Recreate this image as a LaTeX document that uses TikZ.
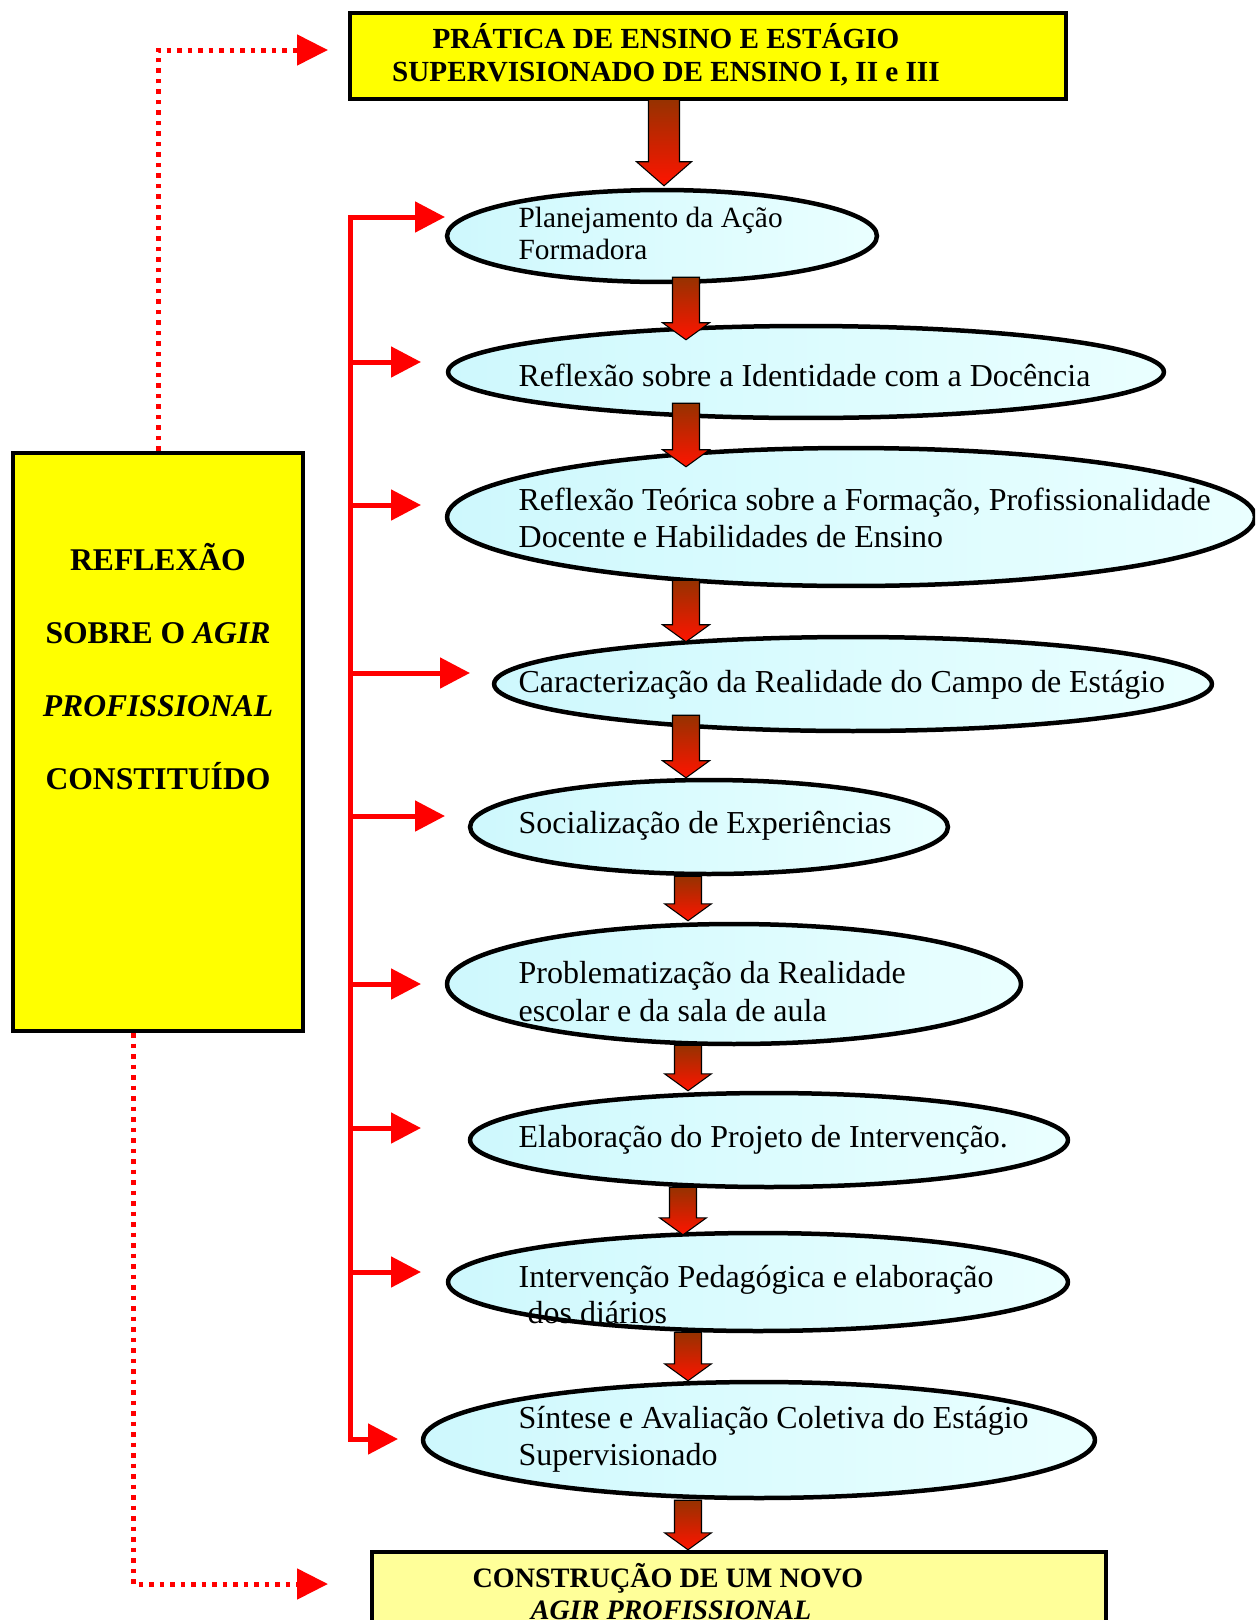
\documentclass[tikz,border=0pt]{standalone}
\usepackage{fontspec}
\setmainfont{Liberation Serif}
\usetikzlibrary{shapes.geometric,arrows.meta,calc}

\definecolor{boxyellow}{RGB}{255,255,0}
\definecolor{paleyellow}{RGB}{255,255,153}
\definecolor{cyanleft}{RGB}{206,248,253}
\definecolor{cyanright}{RGB}{234,255,255}
\definecolor{arrowtop}{RGB}{150,50,0}
\definecolor{arrowbot}{RGB}{255,20,0}

\tikzset{every picture/.style={line width=0.75pt}}
\tikzset{
  topbox/.style={rectangle,draw=black,line width=0.09cm,fill=boxyellow},
  endbox/.style={rectangle,draw=black,line width=0.09cm,fill=paleyellow},
  stage/.style={ellipse,draw=black,line width=0.09cm,left color=cyanleft,right color=cyanright},
  etext/.style={anchor=base west,font=\fontsize{18.2}{22}\selectfont},
  smalltext/.style={anchor=base west,font=\fontsize{16.7}{20}\selectfont},
  boxtext/.style={anchor=base,font=\fontsize{16.6}{20}\selectfont\bfseries},
  sidetext/.style={anchor=base,font=\fontsize{18}{22}\selectfont\bfseries},
  endtext/.style={anchor=base,font=\fontsize{16}{19}\selectfont\bfseries},
  sidearrow/.style={draw=red,line width=0.1cm,-{Triangle[length=0.6cm,width=0.6cm]}},
  spine/.style={draw=red,line width=0.1cm,line join=miter,{Triangle[length=0.6cm,width=0.6cm]}-{Triangle[length=0.6cm,width=0.6cm]}},
  dotarrow/.style={draw=red,line width=0.1cm,dash pattern=on 0.09cm off 0.12cm,-{Triangle[length=0.62cm,width=0.6cm]}},
  blockarrow/.style={draw=black,line width=0.6pt,top color=arrowtop,bottom color=arrowbot}
}

% block arrow sizes
\newcommand{\arrshaft}{0.27cm}
\newcommand{\arrhead}{0.47cm}
\newcommand{\arrheadlen}{0.34cm}
% #1 from, #2 to, #3 x, #4 start shift, #5 tip shift
\newcommand{\flowarrow}[5]{%
  \draw[blockarrow] let \p1=(#1.south), \p2=(#2.north), \p3=(#3,#4), \p4=(0,#5) in
    (\x3-\arrshaft,\y1+\y3) -- (\x3+\arrshaft,\y1+\y3) -- (\x3+\arrshaft,\y2+\y4+\arrheadlen)
    -- (\x3+\arrhead,\y2+\y4+\arrheadlen) -- (\x3,\y2+\y4) -- (\x3-\arrhead,\y2+\y4+\arrheadlen)
    -- (\x3-\arrshaft,\y2+\y4+\arrheadlen) -- cycle;}

\begin{document}
\begin{tikzpicture}[x=0.02cm,y=0.02cm]
\tikzstyle{every node}+=[inner sep=0pt]
\clip (0,0) rectangle (1255,-1620);

% boxes
\node[topbox,minimum width=14.32cm,minimum height=1.72cm] (tb) at (708,-56) {};
\node[boxtext] (tb1) at (666,-48) {PRÁTICA DE ENSINO E ESTÁGIO};
\node[boxtext] (tb2) at (666,-81) {SUPERVISIONADO DE ENSINO I, II e III};

\node[topbox,minimum width=5.8cm,minimum height=11.56cm] (lb) at (158,-742) {};
\node[sidetext] (lb1) at (158,-570) {REFLEXÃO};
\node[sidetext] (lb2) at (158,-643) {SOBRE O \textit{AGIR}};
\node[sidetext] (lb3) at (158,-716) {\textit{PROFISSIONAL}};
\node[sidetext] (lb4) at (158,-789) {CONSTITUÍDO};

\node[endbox,minimum width=14.68cm,minimum height=2.4cm] (bb) at (739,-1612) {};
\node[endtext] (bb1) at (668,-1587) {CONSTRUÇÃO DE UM NOVO};
\node[endtext] (bb2) at (671,-1619) {\textit{AGIR PROFISSIONAL}};

% stages
\node[stage,minimum width=8.6cm,minimum height=1.84cm] (e1) at (662,-236) {};
\node[stage,minimum width=14.32cm,minimum height=1.84cm] (e2) at (806,-372) {};
\node[stage,minimum width=16.16cm,minimum height=2.76cm] (e3) at (851,-517) {};
\node[stage,minimum width=14.36cm,minimum height=1.88cm] (e4) at (853,-684) {};
\node[stage,minimum width=9.56cm,minimum height=1.88cm] (e5) at (709,-827) {};
\node[stage,minimum width=11.48cm,minimum height=2.4cm] (e6) at (734,-984) {};
\node[stage,minimum width=11.96cm,minimum height=1.88cm] (e7) at (769,-1140) {};
\node[stage,minimum width=12.4cm,minimum height=1.96cm] (e8) at (758,-1282) {};
\node[stage,minimum width=13.44cm,minimum height=2.32cm] (e9) at (759,-1440) {};

% flow arrows
\begin{scope}
\renewcommand{\arrshaft}{0.31cm}
\renewcommand{\arrhead}{0.55cm}
\renewcommand{\arrheadlen}{0.48cm}
\flowarrow{tb}{e1}{664}{2}{2}
\end{scope}
\flowarrow{e1}{e2}{686}{7}{-16}
\flowarrow{e2}{e3}{686}{17}{-21}
\flowarrow{e3}{e4}{686}{8}{-7}
\flowarrow{e4}{e5}{686}{18}{0}
\flowarrow{e5}{e6}{688}{0}{1}
\flowarrow{e6}{e7}{688}{1}{0}
\flowarrow{e7}{e8}{683}{2}{-4}
\flowarrow{e8}{e9}{688}{1}{-1}
\flowarrow{e9}{bb}{688}{0}{0}

% stage texts
\node[smalltext] (t1a) at (518,-227) {Planejamento da Ação};
\node[smalltext] (t1b) at (518,-259) {Formadora};
\node[etext] (t2a) at (518,-386) {Reflexão sobre a Identidade com a Docência};
\node[etext] (t3a) at (518,-510) {Reflexão Teórica sobre a Formação, Profissionalidade};
\node[etext] (t3b) at (518,-547) {Docente e Habilidades de Ensino};
\node[etext] (t4a) at (518,-692) {Caracterização da Realidade do Campo de Estágio};
\node[etext] (t5a) at (518,-833) {Socialização de Experiências};
\node[etext] (t6a) at (518,-983) {Problematização da Realidade};
\node[etext] (t6b) at (518,-1021) {escolar e da sala de aula};
\node[etext] (t7a) at (518,-1147) {Elaboração do Projeto de Intervenção.};
\node[etext] (t8a) at (518,-1287) {Intervenção Pedagógica e elaboração};
\node[etext] (t8b) at (527,-1323) {dos diários};
\node[etext] (t9a) at (518,-1428) {Síntese e Avaliação Coletiva do Estágio};
\node[etext] (t9b) at (518,-1465) {Supervisionado};

% red bracket
\coordinate (b1) at (350,-217);
\coordinate (b2) at (350,-362);
\coordinate (b3) at (350,-505);
\coordinate (b4) at (350,-673);
\coordinate (b5) at (350,-816);
\coordinate (b6) at (350,-984);
\coordinate (b7) at (350,-1128);
\coordinate (b8) at (350,-1272);
\coordinate (b9) at (350,-1439);
\coordinate (r1) at (445,-217);
\coordinate (r2) at (421,-362);
\coordinate (r3) at (421,-505);
\coordinate (r4) at (470,-673);
\coordinate (r5) at (445,-816);
\coordinate (r6) at (421,-984);
\coordinate (r7) at (421,-1128);
\coordinate (r8) at (421,-1272);
\coordinate (r9) at (398,-1439);
\draw[spine] (r1) -- (b1) -- (b9) -- (r9);
\draw[sidearrow] (b2) -- (r2);
\draw[sidearrow] (b3) -- (r3);
\draw[sidearrow] (b4) -- (r4);
\draw[sidearrow] (b5) -- (r5);
\draw[sidearrow] (b6) -- (r6);
\draw[sidearrow] (b7) -- (r7);
\draw[sidearrow] (b8) -- (r8);

% dotted feedback
\coordinate (d1) at (328,-50);
\coordinate (d2) at (328,-1584);
\coordinate (dlow) at (133,-1584);
\draw[dotarrow] (lb.north) |- (d1);
\draw[dotarrow] (lb.south -| dlow) |- (d2);
\end{tikzpicture}
\end{document}
